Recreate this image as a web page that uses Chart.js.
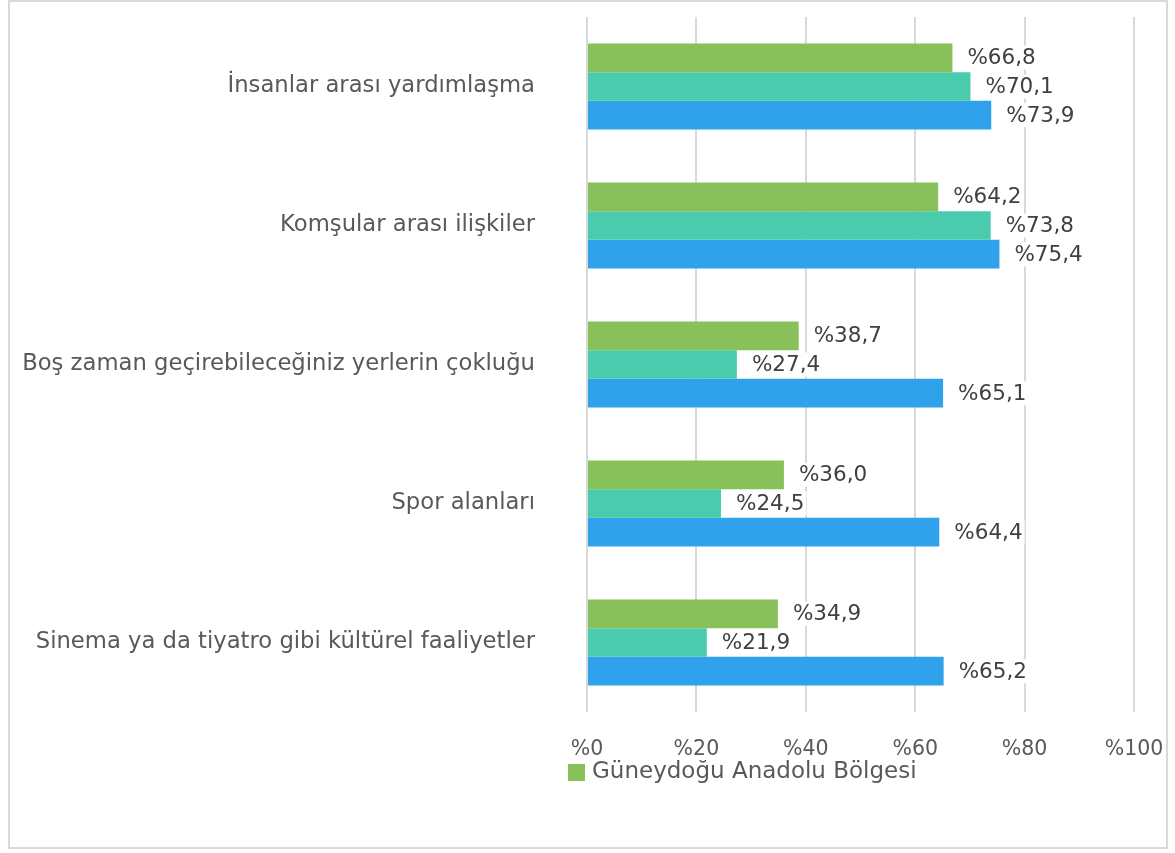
<!DOCTYPE html>
<html lang="tr">
<head>
<meta charset="utf-8">
<script src="https://cdn.jsdelivr.net/npm/chart.js@4.4.1/dist/chart.umd.min.js"></script>
<style>
    html, body { margin: 0; padding: 0; background: #ffffff; }
    #frame {
        position: absolute;
        left: 8px; top: 0px;
        width: 1160px; height: 849px;
        border: 2px solid #d9d9d9;
        box-sizing: border-box;
    }
    #wrap { position: absolute; left: 0; top: 0; width: 1175px; height: 853px; }
</style>
</head>
<body>
<div id="frame"></div>
<div id="wrap"><canvas id="chart" width="1175" height="853"></canvas></div>
<script>

const categories = [
    "İnsanlar arası yardımlaşma",
    "Komşular arası ilişkiler",
    "Boş zaman geçirebileceğiniz yerlerin çokluğu",
    "Spor alanları",
    "Sinema ya da tiyatro gibi kültürel faaliyetler"
];

const seriesNames = ["Güneydoğu Anadolu Bölgesi", "Seri 2", "Seri 3"];

const greenValues = [66.8, 64.2, 38.7, 36.0, 34.9];
const tealValues  = [70.1, 73.8, 27.4, 24.5, 21.9];
const blueValues  = [73.9, 75.4, 65.1, 64.4, 65.2];

const xTicks = [0, 20, 40, 60, 80, 100];

const colors = ["#88c15a", "#4bcbad", "#2fa2eb"];

const FONT = "'DejaVu Sans', Verdana, sans-serif";

function pct(v) {
    return "%" + v.toFixed(1).replace(".", ",");
}

// value labels to the right of every bar, on a white box
const barLabels = {
    id: "barLabels",
    afterDatasetsDraw(chart) {
        let ctx = chart.ctx;
        ctx.save();
        ctx.font = "21.5px " + FONT;
        ctx.textBaseline = "middle";
        ctx.textAlign = "left";
        chart.data.datasets.forEach((ds, i) => {
            chart.getDatasetMeta(i).data.forEach((bar, j) => {
                let text = pct(ds.data[j]);
                let x = bar.x + 15;
                let w = ctx.measureText(text).width;
                ctx.fillStyle = "#ffffff";
                ctx.fillRect(x - 2, bar.y - 12, w + 4, 24);
                ctx.fillStyle = "#404040";
                ctx.fillText(text, x, bar.y + 1);
            });
        });
        ctx.restore();
    }
};

// only the first series shows up in the legend line under the axis
const legendLine = {
    id: "legendLine",
    afterDraw(chart) {
        let ctx = chart.ctx;
        let area = chart.chartArea;
        let x = area.left - 19, y = area.bottom + 60;
        ctx.save();
        ctx.fillStyle = colors[0];
        ctx.fillRect(x, y - 8, 17, 17);
        ctx.font = "23px " + FONT;
        ctx.fillStyle = "#595959";
        ctx.textBaseline = "middle";
        ctx.fillText(chart.data.datasets[0].label, x + 24, y);
        ctx.restore();
    }
};

const datasets = [greenValues, tealValues, blueValues].map((vals, i) => ({
    label: seriesNames[i],
    data: vals,
    backgroundColor: colors[i],
    borderWidth: 0,
    categoryPercentage: 0.62,
    barPercentage: 1.0
}));

new Chart(document.getElementById("chart"), {
    type: "bar",
    data: { labels: categories, datasets: datasets },
    options: {
        indexAxis: "y",
        responsive: false,
        animation: false,
        layout: { padding: { top: 17, right: 41, left: 0, bottom: 0 } },
        plugins: {
            legend: { display: false },
            tooltip: { enabled: false }
        },
        scales: {
            x: {
                min: 0,
                max: 100,
                afterBuildTicks(scale) {
                    scale.ticks = xTicks.map(v => ({ value: v }));
                },
                afterFit(scale) {
                    scale.height = 141;
                },
                // invisible tick marks push the labels down without widening the side padding
                grid: { color: "#d9d9d9", lineWidth: 2, drawTicks: true, tickLength: 25, tickColor: "rgba(0,0,0,0)" },
                border: { display: false },
                ticks: {
                    padding: 0,
                    color: "#595959",
                    font: { family: FONT, size: 20.5 },
                    callback: v => "%" + v
                }
            },
            y: {
                afterFit(scale) {
                    scale.width = 587;
                },
                grid: { display: false, drawTicks: true, tickLength: 50 },
                border: { display: false },
                ticks: {
                    padding: 2,
                    color: "#595959",
                    font: { family: FONT, size: 22.7 }
                }
            }
        }
    },
    plugins: [barLabels, legendLine]
});
</script>
</body>
</html>
